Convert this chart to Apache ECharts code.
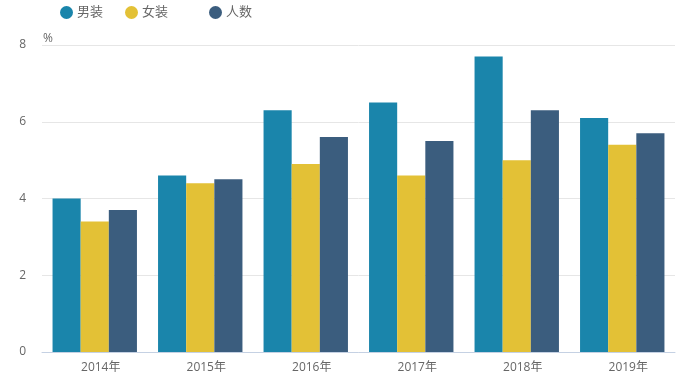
<!DOCTYPE html>
<html>
<head>
<meta charset="utf-8">
<script src="https://cdn.jsdelivr.net/npm/echarts@6/dist/echarts.min.js"></script>
<style>html,body{margin:0;padding:0;background:#fff}#c{width:690px;height:388px}</style>
</head>
<body>
<div id="c"></div>
<script>
const categories = ['2014年','2015年','2016年','2017年','2018年','2019年'];
const male = [4.0, 4.6, 6.3, 6.5, 7.7, 6.1];
const female = [3.4, 4.4, 4.9, 4.6, 5.0, 5.4];
const people = [3.7, 4.5, 5.6, 5.5, 6.3, 5.7];
const yTicks = [0, 2, 4, 6, 8];

const font = '"Open Sans", "Noto Sans CJK SC", sans-serif';
const chart = echarts.init(document.getElementById('c'));
function lg(name, left) {
  return {
    data: [name], left: left, top: 6, padding: 0, icon: 'circle', itemWidth: 13, itemHeight: 13, itemGap: 10,
    textStyle: { color: '#666', fontSize: 13, fontFamily: font, padding: [0, 0, 0, -1] }
  };
}
chart.setOption({
  animation: false,
  color: ['#1a85ab', '#e3c136', '#3b5d7e'],
  legend: [lg('男装', 60), lg('女装', 125), lg('人数', 209)],
  grid: { left: 42, right: 15, top: 45, bottom: 36 },
  xAxis: {
    type: 'category', data: categories,
    axisLine: { lineStyle: { color: '#c5d1e3' } },
    axisTick: { lineStyle: { color: '#c5d1e3' }, length: 5 },
    axisLabel: { color: '#666', fontSize: 12, fontFamily: font, margin: 10, padding: [0, 0, 0, 12] }
  },
  yAxis: {
    type: 'value', min: yTicks[0], max: yTicks[yTicks.length - 1], interval: 2,
    name: '%', nameGap: 0, nameTextStyle: { color: '#666', fontSize: 12, fontFamily: font, align: 'left', padding: [0, 0, 0, 1] },
    axisLine: { show: false }, axisTick: { show: false },
    axisLabel: { color: '#666', fontSize: 12, fontFamily: font, margin: 16 },
    splitLine: { lineStyle: { color: '#e6e6e6' } }
  },
  series: [
    { name: '男装', type: 'bar', data: male, barGap: '0%', barCategoryGap: '20%' },
    { name: '女装', type: 'bar', data: female },
    { name: '人数', type: 'bar', data: people }
  ]
});
</script>
</body>
</html>
